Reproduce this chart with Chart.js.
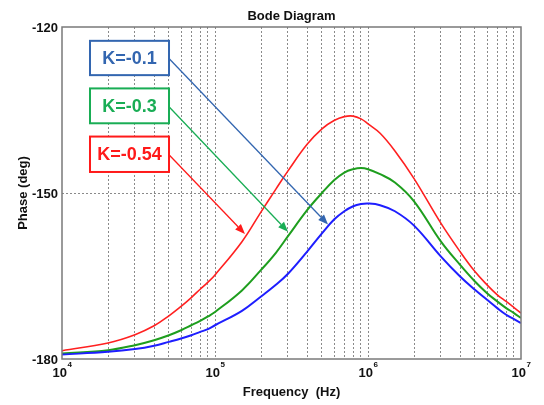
<!DOCTYPE html>
<html>
<head>
<meta charset="utf-8">
<script src="https://cdn.jsdelivr.net/npm/chart.js@4"></script>
<style>
  html, body { margin: 0; padding: 0; background: #fff; }
  #wrap { width: 544px; height: 405px; }
</style>
</head>
<body>
<div id="wrap"><canvas id="bode"></canvas></div>
<script>
// frequencias (Hz)
var freq = [1e4, 2e4, 3e4, 4e4, 5e4, 6e4, 7e4, 8e4, 9e4, 1e5, 1.5e5, 2e5, 2.5e5, 3e5, 4e5, 5e5, 6e5, 7e5, 8e5, 9e5,
  1e6, 1.2e6, 1.5e6, 2e6, 3e6, 4e6, 5e6, 6e6, 7e6, 8e6, 9e6, 1e7];

// fase (graus) de cada curva
var faseK01 = [-179.2, -178.7, -178.2, -177.6, -176.9, -176.3, -175.7, -175.1, -174.6, -173.9, -171.3, -168.7, -166.6, -164.6, -160.6, -157.3, -154.8, -153.3, -152.4, -152.0,
  -151.9, -152.2, -153.3, -155.9, -161.5, -165.1, -167.5, -169.3, -170.8, -172.0, -172.8, -173.5];
var faseK03 = [-179.0, -178.4, -177.5, -176.6, -175.7, -174.8, -173.9, -173.1, -172.3, -171.5, -167.6, -163.9, -160.8, -157.8, -153.1, -150.0, -147.7, -146.3, -145.7, -145.5,
  -145.7, -146.6, -148.1, -151.5, -158.8, -163.0, -166.0, -168.1, -169.6, -170.8, -171.7, -172.6];
var faseK054 = [-178.5, -177.1, -175.6, -174.0, -172.2, -170.5, -168.9, -167.4, -166.1, -164.8, -158.8, -153.4, -149.3, -146.0, -141.2, -138.4, -136.9, -136.2, -136.1, -136.6,
  -137.5, -139.2, -142.4, -147.4, -155.5, -160.6, -164.2, -166.6, -168.4, -169.6, -170.7, -171.7];

var rotulos = ['K=-0.1', 'K=-0.3', 'K=-0.54'];
var ticksY = [-180, -150, -120];
var expoentes = [4, 5, 6, 7];

// junta x e y
function pontos(vet) {
  var p = [];
  for (var i = 0; i < freq.length; i++) {
    p.push({ x: freq[i], y: vet[i] });
  }
  return p;
}

// caixas e setas, em coordenadas do grafico (freq, fase)
var anotacoes = [
  { texto: rotulos[0], cor: '#3366b0', caixa: [15240, -122.5, 50050, -128.7], de: [50050, -125.7], ate: [5.48e5, -155.7] },
  { texto: rotulos[1], cor: '#19ad55', caixa: [15240, -131.1, 50050, -137.4], de: [50050, -134.4], ate: [3.0e5, -157.0] },
  { texto: rotulos[2], cor: '#ff1a1a', caixa: [15240, -139.8, 50050, -146.2], de: [50050, -143.1], ate: [1.57e5, -157.4] }
];

var desenhaExtras = {
  id: 'extras',
  afterDatasetsDraw: function (chart) {
    var ctx = chart.ctx;
    var xs = chart.scales.x, ys = chart.scales.y;
    var a = chart.chartArea;
    ctx.save();

    // borda do grafico
    ctx.strokeStyle = '#7a7a7a';
    ctx.lineWidth = 1.5;
    ctx.strokeRect(a.left, a.top, a.right - a.left, a.bottom - a.top);

    // anotacoes
    anotacoes.forEach(function (an) {
      var x1 = xs.getPixelForValue(an.caixa[0]), y1 = ys.getPixelForValue(an.caixa[1]);
      var x2 = xs.getPixelForValue(an.caixa[2]), y2 = ys.getPixelForValue(an.caixa[3]);
      ctx.fillStyle = '#fff';
      ctx.fillRect(x1, y1, x2 - x1, y2 - y1);
      ctx.strokeStyle = an.cor;
      ctx.lineWidth = 2;
      ctx.strokeRect(x1, y1, x2 - x1, y2 - y1);
      ctx.fillStyle = an.cor;
      ctx.font = 'bold 18px "Liberation Sans", Arial, sans-serif';
      ctx.textAlign = 'center';
      ctx.textBaseline = 'middle';
      ctx.fillText(an.texto, (x1 + x2) / 2, (y1 + y2) / 2 + 1);

      // seta
      var sx = xs.getPixelForValue(an.de[0]), sy = ys.getPixelForValue(an.de[1]);
      var tx = xs.getPixelForValue(an.ate[0]), ty = ys.getPixelForValue(an.ate[1]);
      var ang = Math.atan2(ty - sy, tx - sx);
      var L = 10, W = 4;
      var bx = tx - L * Math.cos(ang), by = ty - L * Math.sin(ang);
      ctx.lineWidth = 1.3;
      ctx.beginPath();
      ctx.moveTo(sx, sy);
      ctx.lineTo(bx, by);
      ctx.stroke();
      ctx.beginPath();
      ctx.moveTo(tx, ty);
      ctx.lineTo(bx + W * Math.sin(ang), by - W * Math.cos(ang));
      ctx.lineTo(bx - W * Math.sin(ang), by + W * Math.cos(ang));
      ctx.closePath();
      ctx.fill();
    });

    // rotulos dos eixos
    ctx.fillStyle = '#111';
    ctx.font = 'bold 13px "Liberation Sans", Arial, sans-serif';
    ctx.textAlign = 'right';
    ctx.textBaseline = 'middle';
    ticksY.forEach(function (v) {
      ctx.fillText(String(v), a.left - 4, ys.getPixelForValue(v) + 1);
    });

    ctx.textBaseline = 'alphabetic';
    expoentes.forEach(function (e) {
      var px = xs.getPixelForValue(Math.pow(10, e));
      ctx.font = 'bold 13px "Liberation Sans", Arial, sans-serif';
      var w1 = ctx.measureText('10').width;
      ctx.font = 'bold 8px "Liberation Sans", Arial, sans-serif';
      var w2 = ctx.measureText(String(e)).width;
      var x0 = px - (w1 + w2) / 2;
      ctx.textAlign = 'left';
      ctx.font = 'bold 13px "Liberation Sans", Arial, sans-serif';
      ctx.fillText('10', x0, a.bottom + 18);
      ctx.font = 'bold 8px "Liberation Sans", Arial, sans-serif';
      ctx.fillText(String(e), x0 + w1 + 0.5, a.bottom + 8);
    });

    // titulos
    var cx = (a.left + a.right) / 2;
    ctx.textAlign = 'center';
    ctx.font = 'bold 13px "Liberation Sans", Arial, sans-serif';
    ctx.fillText('Bode Diagram', cx, 19.5);
    ctx.fillText('Frequency  (Hz)', cx, 396);
    ctx.save();
    ctx.translate(27, (a.top + a.bottom) / 2);
    ctx.rotate(-Math.PI / 2);
    ctx.fillText('Phase (deg)', 0, 0);
    ctx.restore();

    ctx.restore();
  }
};

// marcas menores do eixo log: 1..9 x 10^n
function ticksLog(scale) {
  var t = [];
  for (var e = 4; e < 7; e++) {
    for (var m = 1; m < 10; m++) {
      t.push({ value: m * Math.pow(10, e) });
    }
  }
  t.push({ value: 1e7 });
  scale.ticks = t;
}

var ctx = document.getElementById('bode').getContext('2d');
var chart = new Chart(ctx, {
  type: 'line',
  data: {
    datasets: [
      {
        label: rotulos[0],
        data: pontos(faseK01),
        borderColor: '#1e1eff',
        borderWidth: 2
      },
      {
        label: rotulos[1],
        data: pontos(faseK03),
        borderColor: '#1e9e1e',
        borderWidth: 2
      },
      {
        label: rotulos[2],
        data: pontos(faseK054),
        borderColor: '#ff2020',
        borderWidth: 1.6
      }
    ]
  },
  options: {
    responsive: true,
    maintainAspectRatio: false,
    animation: false,
    layout: {
      padding: { left: 62, top: 27, right: 23, bottom: 46 }
    },
    elements: {
      point: { radius: 0 },
      line: { tension: 0.4 }
    },
    plugins: {
      legend: { display: false },
      tooltip: { enabled: false }
    },
    scales: {
      x: {
        type: 'logarithmic',
        min: 1e4,
        max: 1e7,
        afterBuildTicks: ticksLog,
        ticks: { display: false },
        border: { display: false, dash: [2, 2] },
        grid: {
          drawTicks: false,
          color: function (c) {
            return (c.tick.value <= 1e4 || c.tick.value >= 1e7) ? 'rgba(0,0,0,0)' : '#8a8a8a';
          },
          lineWidth: 1
        }
      },
      y: {
        min: -180,
        max: -120,
        afterBuildTicks: function (scale) {
          scale.ticks = ticksY.map(function (v) { return { value: v }; });
        },
        ticks: { display: false },
        border: { display: false, dash: [2, 2] },
        grid: {
          drawTicks: false,
          color: function (c) {
            return c.tick.value === -150 ? '#8a8a8a' : 'rgba(0,0,0,0)';
          },
          lineWidth: 1
        }
      }
    }
  },
  plugins: [desenhaExtras]
});
</script>
</body>
</html>
